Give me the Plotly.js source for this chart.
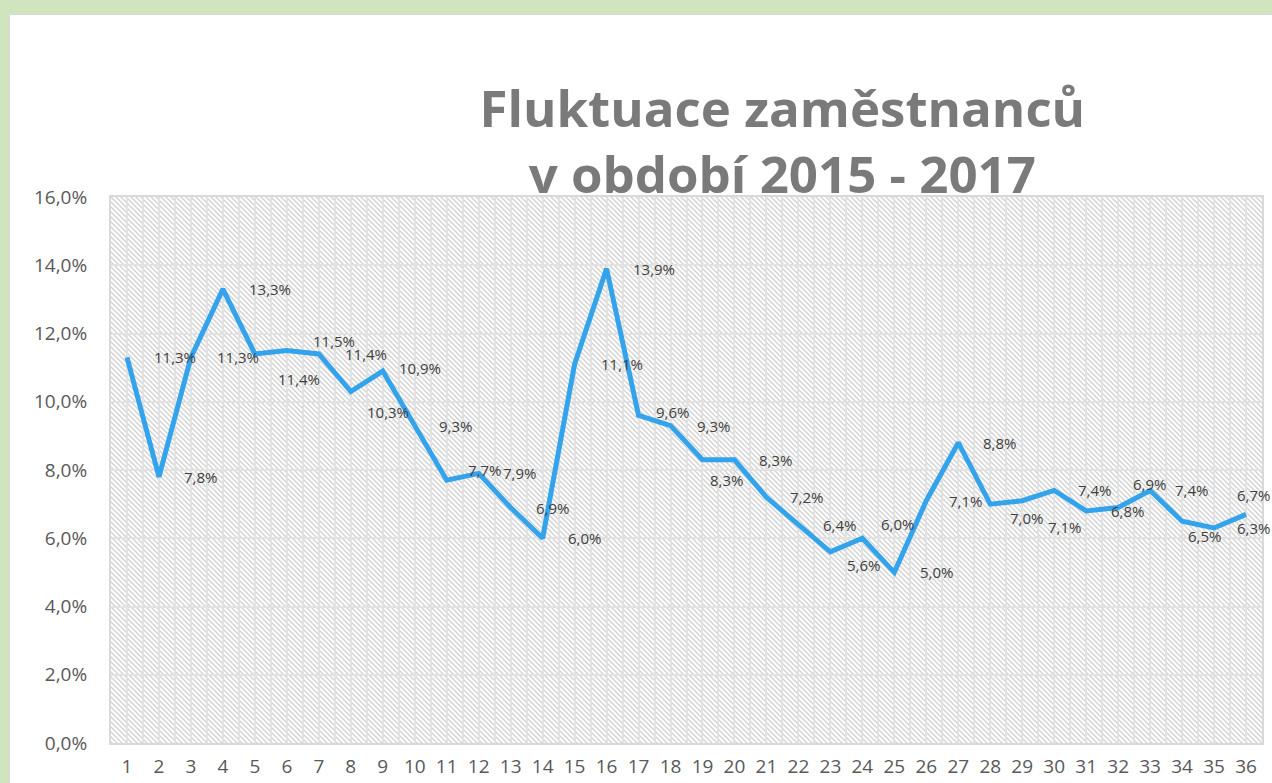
<!DOCTYPE html>
<html>
<head>
<meta charset="utf-8">
<script src="https://cdn.plot.ly/plotly-3.0.1.min.js"></script>
<style>
html,body{margin:0;padding:0;width:1272px;height:783px;overflow:hidden;background:#d0e4bd;}
#panel{position:absolute;left:9px;top:14px;width:1275px;height:780px;background:#fff;border:1px solid #d9d9d9;box-sizing:border-box;}
#chart{position:absolute;left:0;top:0;width:1272px;height:783px;}
</style>
</head>
<body>
<div id="panel"></div>
<div id="chart"></div>
<script>
// ---- data ----
const periods = [1,2,3,4,5,6,7,8,9,10,11,12,13,14,15,16,17,18,19,20,21,22,23,24,25,26,27,28,29,30,31,32,33,34,35,36];
const turnover = [11.3,7.8,11.3,13.3,11.4,11.5,11.4,10.3,10.9,9.3,7.7,7.9,6.9,6.0,11.1,13.9,9.6,9.3,8.3,8.3,7.2,6.4,5.6,6.0,5.0,7.1,8.8,7.0,7.1,7.4,6.8,6.9,7.4,6.5,6.3,6.7];
const yTicks = [0,2,4,6,8,10,12,14,16];
const titleText = 'Fluktuace zaměstnanců<br>v období 2015 - 2017';

// ---- label placement (pixel offsets of each data label from its point) ----
const labelDx = [25,23,24,24,21,24,24,14,14,22,19,22,23,23,24,24,15,24,6,23,22,23,15,17,24,21,23,18,24,22,23,13,23,4,21,-11];
const labelDy = [0,0,0,0,25,-10,0,20,-3,0,-10,0,0,0,0,0,-3,0,20,0,0,0,13,-14,0,0,0,14,26,0,0,-24,0,15,0,-19];

const fmt = v => v.toFixed(1).replace('.', ',') + '%';

const annotations = periods.map((p, i) => ({
  x: p, y: turnover[i], xref: 'x', yref: 'y',
  text: fmt(turnover[i]), showarrow: false,
  xanchor: 'left', yanchor: 'middle',
  xshift: labelDx[i], yshift: -labelDy[i],
  font: {family: 'Open Sans, sans-serif', size: 15, color: '#404040'}
}));

const hatch = "<svg xmlns='http://www.w3.org/2000/svg' width='1151' height='546'><defs><pattern id='p' width='5' height='5' patternUnits='userSpaceOnUse'><path d='M-1,-1 L6,6 M-1,4 L1,6 M4,-1 L6,1' stroke='#d4d4d4' stroke-width='1.5'/></pattern></defs><rect width='100%' height='100%' fill='url(#p)'/></svg>";

const trace = {
  x: periods, y: turnover, type: 'scatter', mode: 'lines',
  line: {color: '#33a3ec', width: 5}, hoverinfo: 'skip'
};

const layout = {
  width: 1272, height: 783,
  margin: {l: 111, r: 10, t: 197, b: 40},
  paper_bgcolor: 'rgba(0,0,0,0)',
  plot_bgcolor: '#ffffff',
  showlegend: false,
  title: {
    text: titleText, xref: 'container', yref: 'container',
    x: 0.615, xanchor: 'center', y: 0.838, yanchor: 'middle',
    font: {family: 'Open Sans, sans-serif', size: 51, color: '#7a7a7a', weight: 'bold'}
  },
  xaxis: {
    range: [0.5, 36.5], tickmode: 'array', tickvals: periods, ticktext: periods.map(String),
    showgrid: true, gridcolor: '#e2e2e2', gridwidth: 2,
    minor: {tickmode: 'linear', tick0: 0.5, dtick: 1, showgrid: true, gridcolor: '#e2e2e2', gridwidth: 2},
    zeroline: false, showline: true, linecolor: '#d9d9d9', linewidth: 2, mirror: true,
    ticks: '', ticklabelstandoff: 5,
    tickfont: {family: 'Open Sans, sans-serif', size: 19, color: '#595959'}
  },
  yaxis: {
    range: [0, 16], tickmode: 'array', tickvals: yTicks, ticktext: yTicks.map(fmt),
    showgrid: true, gridcolor: '#e2e2e2', gridwidth: 2,
    zeroline: false, showline: true, linecolor: '#d9d9d9', linewidth: 2, mirror: true,
    ticks: '', ticklabelstandoff: 18,
    tickfont: {family: 'Open Sans, sans-serif', size: 19, color: '#595959'}
  },
  images: [{
    source: 'data:image/svg+xml;charset=utf-8,' + encodeURIComponent(hatch),
    xref: 'paper', yref: 'paper', x: 0, y: 1, sizex: 1, sizey: 1,
    sizing: 'stretch', xanchor: 'left', yanchor: 'top', layer: 'below'
  }],
  annotations: annotations
};

Plotly.newPlot('chart', [trace], layout, {displayModeBar: false, staticPlot: true});
</script>
</body>
</html>
